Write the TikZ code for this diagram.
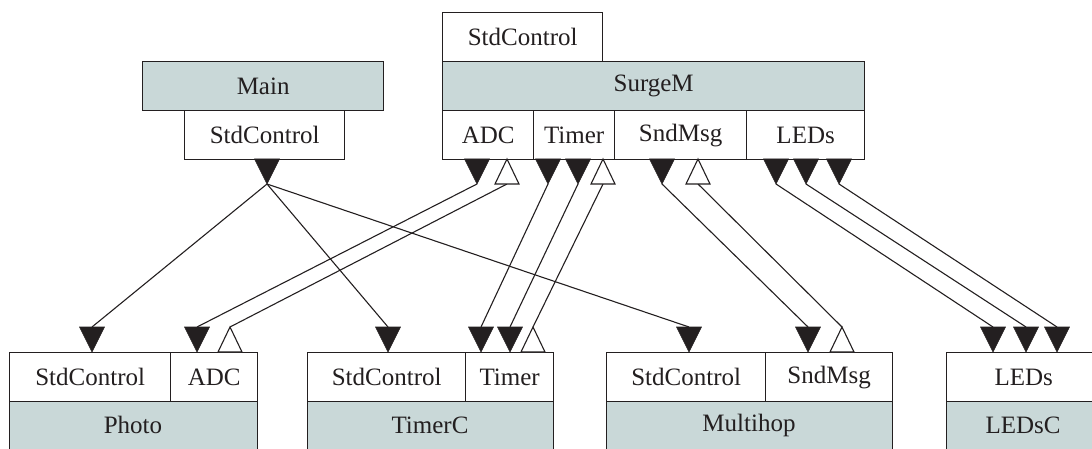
\documentclass[tikz,border=0pt]{standalone}
\usepackage{fontspec}
\setmainfont{Liberation Serif}
\definecolor{modfill}{RGB}{201,216,216}
\definecolor{ink}{RGB}{35,31,32}
\begin{document}
\begin{tikzpicture}[x=1pt,y=-1pt,
  lbl/.style={font=\fontsize{25}{29}\selectfont, text=ink},
  box/.style={draw=ink, line width=1.3pt, rectangle, anchor=north west, inner sep=0pt,
    minimum height=49pt, lbl},
  iface/.style={box, fill=white},
  module/.style={box, fill=modfill},
  conn/.style={draw=ink, line width=1.1pt},
  pics/fhead/.style={code={\filldraw[ink, line width=0.6pt] (-12.5,-25) -- (12.5,-25) -- (0,0) -- cycle;}},
  pics/otail/.style={code={\draw[ink, fill=white, line width=1.1pt] (-12,25) -- (12,25) -- (0,0) -- cycle;}}
]
\path[use as bounding box] (0,0) rectangle (1092,449);
\clip (0,0) rectangle (1092,449);

% ---- top modules
\node[module, minimum width=241pt] (main) at (142,61) {Main};
\node[iface, minimum width=160pt] (mainSC) at (184,110) {StdControl};

\node[iface, minimum width=160pt] (surgeSC) at (442,12) {StdControl};
\node[module, minimum width=422pt] (surge) at (442,61) {SurgeM};
\node[iface, minimum width=91pt] (sADC) at (442,110) {ADC};
\node[iface, minimum width=81pt] (sTimer) at (533,110) {Timer};
\node[iface, minimum width=132pt] (sSnd) at (614,110) {SndMsg};
\node[iface, minimum width=118pt] (sLEDs) at (746,110) {LEDs};

% ---- bottom modules
\node[iface, minimum width=161pt] (pSC) at (9,352) {StdControl};
\node[iface, minimum width=87pt] (pADC) at (170,352) {ADC};
\node[module, minimum width=248pt, minimum height=60pt] (photo) at (9,401) {};
\node[lbl] (photoL) at (133,425) {Photo};

\node[iface, minimum width=158pt] (tSC) at (307,352) {StdControl};
\node[iface, minimum width=88pt] (tTimer) at (465,352) {Timer};
\node[module, minimum width=246pt, minimum height=60pt] (timerc) at (307,401) {};
\node[lbl] (timercL) at (430,425) {TimerC};

\node[iface, minimum width=159pt] (mSC) at (606,352) {StdControl};
\node[iface, minimum width=127pt] (mSnd) at (765,352) {SndMsg};
\node[module, minimum width=286pt, minimum height=60pt] (multihop) at (606,401) {};
\node[lbl] (multihopL) at (749,425) {Multihop};

\node[iface, minimum width=154pt] (lLEDs) at (946,352) {LEDs};
\node[module, minimum width=154pt, minimum height=60pt] (ledsc) at (946,401) {};
\node[lbl] (ledscL) at (1023,425) {LEDsC};

% ---- connector end points
\coordinate (mainOut) at (267,184);
\coordinate (pSCin) at (92,327);
\coordinate (tSCin) at (388,327);
\coordinate (mSCin) at (689,327);

\coordinate (sADCout) at (477,184);
\coordinate (pADCin) at (197,327);
\coordinate (pADCup) at (230,327);
\coordinate (sADCback) at (507,184);

\coordinate (sTimerOutA) at (548,184);
\coordinate (sTimerOutB) at (578,184);
\coordinate (tTimerInA) at (481,327);
\coordinate (tTimerInB) at (510,327);
\coordinate (tTimerUp) at (533,327);
\coordinate (sTimerBack) at (603,184);

\coordinate (sSndOut) at (662,184);
\coordinate (mSndIn) at (808,327);
\coordinate (mSndUp) at (842,327);
\coordinate (sSndBack) at (698,184);

\coordinate (sLEDsOutA) at (776,184);
\coordinate (sLEDsOutB) at (806,184);
\coordinate (sLEDsOutC) at (839,184);
\coordinate (lLEDsInA) at (993,327);
\coordinate (lLEDsInB) at (1026,327);
\coordinate (lLEDsInC) at (1057,327);

% ---- connectors
\draw[conn] (mainOut) -- (pSCin);
\draw[conn] (mainOut) -- (tSCin);
\draw[conn] (mainOut) -- (mSCin);

\draw[conn] (sADCout) -- (pADCin);
\draw[conn] (pADCup) -- (sADCback);

\draw[conn] (sTimerOutA) -- (tTimerInA);
\draw[conn] (sTimerOutB) -- (tTimerInB);
\draw[conn] (tTimerUp) -- (sTimerBack);

\draw[conn] (sSndOut) -- (mSndIn);
\draw[conn] (mSndUp) -- (sSndBack);

\draw[conn] (sLEDsOutA) -- (lLEDsInA);
\draw[conn] (sLEDsOutB) -- (lLEDsInB);
\draw[conn] (sLEDsOutC) -- (lLEDsInC);

% ---- triangles at the sources (top)
\pic at (mainOut) {fhead};
\pic at (sADCout) {fhead};
\pic at (sTimerOutA) {fhead};
\pic at (sTimerOutB) {fhead};
\pic at (sSndOut) {fhead};
\pic at (sLEDsOutA) {fhead};
\pic at (sLEDsOutB) {fhead};
\pic at (sLEDsOutC) {fhead};
\pic at (507,159) {otail};
\pic at (603,159) {otail};
\pic at (698,159) {otail};

% ---- triangles at the bottom interfaces
\pic at (92,352) {fhead};
\pic at (388,352) {fhead};
\pic at (689,352) {fhead};
\pic at (197,352) {fhead};
\pic at (481,352) {fhead};
\pic at (510,352) {fhead};
\pic at (808,352) {fhead};
\pic at (993,352) {fhead};
\pic at (1026,352) {fhead};
\pic at (1057,352) {fhead};
\pic at (pADCup) {otail};
\pic at (tTimerUp) {otail};
\pic at (mSndUp) {otail};
\end{tikzpicture}
\end{document}
